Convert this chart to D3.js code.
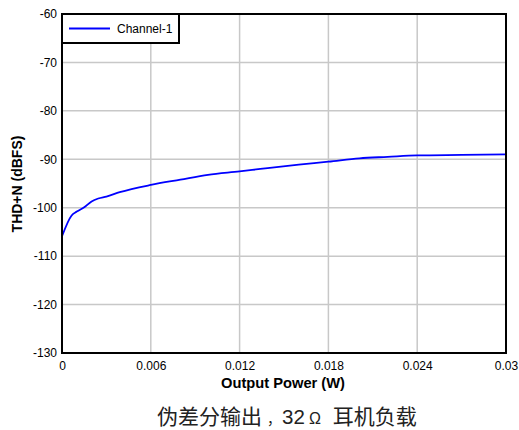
<!DOCTYPE html>
<html><head><meta charset="utf-8">
<script src="https://cdn.jsdelivr.net/npm/d3@7"></script>
<style>body{margin:0;background:#fff}svg{display:block}</style>
</head><body>
<svg id="c" width="519" height="430"></svg>
<script>
const seriesName = "Channel-1";
const powerW = [0, 0.00065, 0.001, 0.0015, 0.002, 0.00245, 0.003, 0.0039, 0.006, 0.0080, 0.00986, 0.012, 0.0134, 0.016, 0.018, 0.0201, 0.022, 0.024, 0.027, 0.03];
const thdN   = [-105.9, -101.6, -100.8, -99.9, -98.7, -98.1, -97.7, -96.8, -95.3, -94.2, -93.2, -92.5, -92.0, -91.1, -90.5, -89.8, -89.5, -89.2, -89.1, -89.0];
const xTicks = [0, 0.006, 0.012, 0.018, 0.024, 0.03];
const yTicks = [-130, -120, -110, -100, -90, -80, -70, -60];
const xTitle = "Output Power (W)";
const yTitle = "THD+N (dBFS)";
const captionParts = ["伪差分输出", "，", "32", "Ω", " 耳机负载"];

const svg = d3.select("#c");
const L = 62, R = 506, T = 14, B = 353;
const x = d3.scaleLinear().domain([0, 0.03]).range([L, R]);
const y = d3.scaleLinear().domain([-130, -60]).range([B, T]);
const latin = "Liberation Sans, Arial, sans-serif";
const cjk = "Noto Sans CJK SC, sans-serif";

// grid
svg.append("g").selectAll("line").data(xTicks).join("line")
  .attr("x1", d => x(d)).attr("x2", d => x(d)).attr("y1", T).attr("y2", B)
  .attr("stroke", "#c8c8c8").attr("stroke-width", 1.5);
svg.append("g").selectAll("line").data(yTicks).join("line")
  .attr("x1", L).attr("x2", R).attr("y1", d => y(d)).attr("y2", d => y(d))
  .attr("stroke", "#c8c8c8").attr("stroke-width", 1.5);

// axes labels
const xa = svg.append("g").attr("transform", `translate(0,${B})`)
  .call(d3.axisBottom(x).tickValues(xTicks).tickSize(0).tickPadding(8).tickFormat(d => String(d)));
xa.select(".domain").remove();
xa.selectAll("text").attr("font-family", latin).attr("font-size", 12).attr("fill", "#000");
const ya = svg.append("g").attr("transform", `translate(${L},0)`)
  .call(d3.axisLeft(y).tickValues(yTicks).tickSize(0).tickPadding(5).tickFormat(d => String(d)));
ya.select(".domain").remove();
ya.selectAll("text").attr("font-family", latin).attr("font-size", 12).attr("fill", "#000");

// line
const line = d3.line().x((d, i) => x(powerW[i])).y((d, i) => y(thdN[i])).curve(d3.curveMonotoneX);
svg.append("path").datum(thdN).attr("d", line).attr("fill", "none").attr("stroke", "#0000ff").attr("stroke-width", 1.8);

// frame
svg.append("rect").attr("x", L).attr("y", T).attr("width", R - L).attr("height", B - T)
  .attr("fill", "none").attr("stroke", "#000").attr("stroke-width", 2);

// legend
svg.append("rect").attr("x", L).attr("y", T).attr("width", 117).attr("height", 29)
  .attr("fill", "#fff").attr("stroke", "#000").attr("stroke-width", 2);
svg.append("line").attr("x1", 69).attr("x2", 110).attr("y1", 28.5).attr("y2", 28.5)
  .attr("stroke", "#0000ff").attr("stroke-width", 1.8);
svg.append("text").attr("x", 117).attr("y", 33).text(seriesName)
  .attr("font-family", latin).attr("font-size", 12);

// titles
svg.append("text").attr("x", 283).attr("y", 388).attr("text-anchor", "middle").text(xTitle)
  .attr("font-family", latin).attr("font-size", 14.7).attr("font-weight", "bold");
svg.append("text").attr("transform", `translate(22,184) rotate(-90)`).attr("text-anchor", "middle").text(yTitle)
  .attr("font-family", latin).attr("font-size", 14).attr("font-weight", "bold");

// caption (one text element, parts positioned)
const cap = svg.append("text").attr("y", 424).attr("fill", "#222").attr("font-size", 21);
cap.append("tspan").text(captionParts[0]).attr("x", 157).attr("font-family", cjk);
cap.append("tspan").text(captionParts[1]).attr("x", 267).attr("font-family", cjk).attr("font-size", 14);
cap.append("tspan").text(captionParts[2]).attr("x", 282).attr("font-family", latin).attr("font-size", 20.5);
cap.append("tspan").text(captionParts[3]).attr("x", 309).attr("font-family", latin).attr("font-size", 16);
cap.append("tspan").text(captionParts[4]).attr("x", 328).attr("font-family", cjk);
</script>
</body></html>
